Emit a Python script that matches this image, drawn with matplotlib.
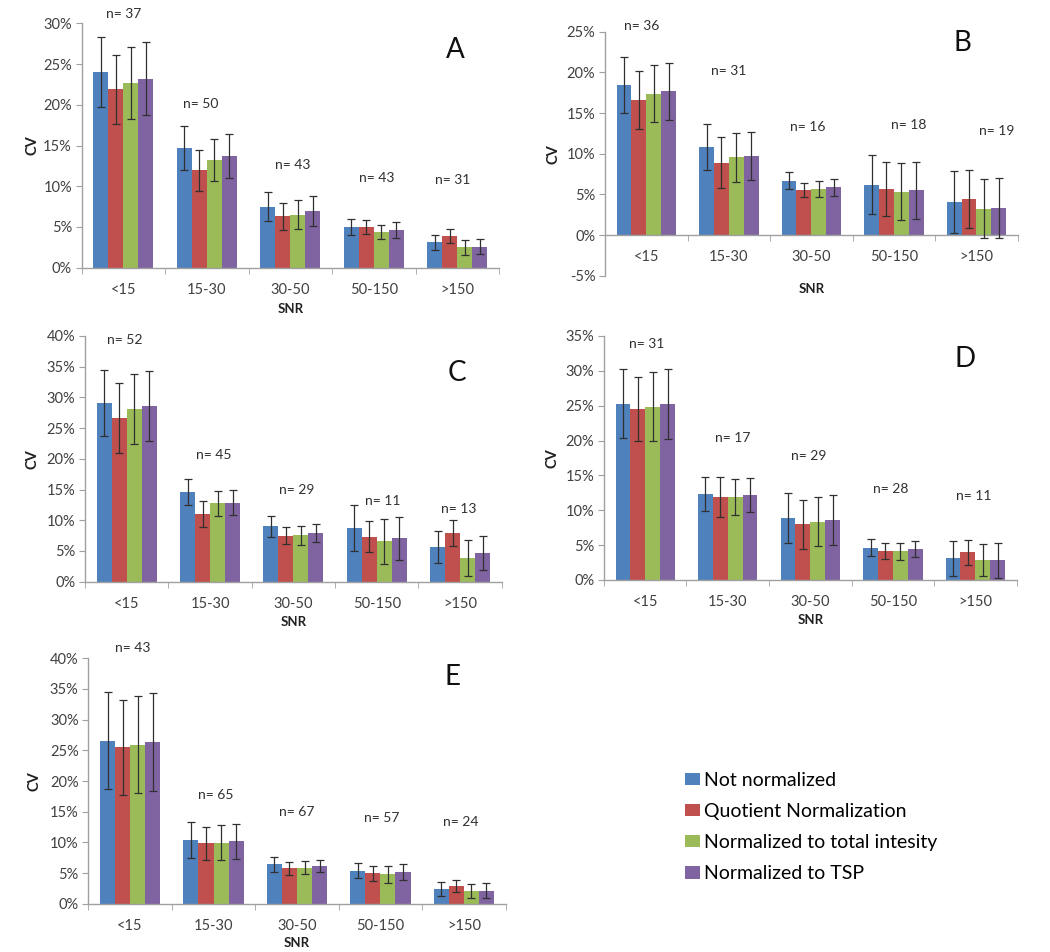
import matplotlib
matplotlib.use('Agg')
import matplotlib.pyplot as plt
from matplotlib.patches import Patch
import numpy as np

plt.rcParams['font.family'] = ['Lato', 'DejaVu Sans']

categories = ['<15', '15-30', '30-50', '50-150', '>150']
series = ['Not normalized', 'Quotient Normalization',
          'Normalized to total intesity', 'Normalized to TSP']
colors = ['#4F81BD', '#C0504D', '#9BBB59', '#8064A2']

# ---- Panel A (rows: series, cols: categories), CV in %
A_cv = [[24.0, 14.7, 7.5, 5.0, 3.1],
        [21.9, 11.95, 6.3, 5.0, 3.9],
        [22.7, 13.2, 6.5, 4.4, 2.5],
        [23.2, 13.7, 6.95, 4.6, 2.6]]
A_err = [[4.3, 2.65, 1.8, 0.95, 0.95],
         [4.2, 2.55, 1.7, 0.9, 0.9],
         [4.4, 2.6, 1.75, 0.9, 0.95],
         [4.5, 2.7, 1.8, 0.95, 0.9]]
A_n = [37, 50, 43, 43, 31]

# ---- Panel B
B_cv = [[18.5, 10.8, 6.7, 6.2, 4.1],
        [16.6, 8.9, 5.5, 5.7, 4.4],
        [17.4, 9.55, 5.65, 5.35, 3.25],
        [17.7, 9.75, 5.85, 5.5, 3.35]]
B_err = [[3.45, 2.8, 1.0, 3.6, 3.8],
         [3.6, 3.1, 0.85, 3.3, 3.55],
         [3.5, 3.0, 1.0, 3.5, 3.6],
         [3.5, 2.95, 1.0, 3.5, 3.7]]
B_n = [36, 31, 16, 18, 19]

# ---- Panel C
C_cv = [[29.05, 14.6, 9.05, 8.75, 5.65],
        [26.65, 11.0, 7.5, 7.35, 7.9],
        [28.1, 12.75, 7.55, 6.55, 3.85],
        [28.6, 12.85, 7.9, 7.05, 4.7]]
C_err = [[5.4, 2.1, 1.7, 3.8, 2.55],
         [5.7, 2.1, 1.4, 2.55, 2.1],
         [5.75, 2.0, 1.5, 3.6, 2.9],
         [5.7, 2.0, 1.5, 3.5, 2.8]]
C_n = [52, 45, 29, 11, 13]

# ---- Panel D
D_cv = [[25.3, 12.3, 8.9, 4.65, 3.1],
        [24.5, 11.85, 8.0, 4.2, 4.0],
        [24.85, 11.95, 8.35, 4.1, 2.85],
        [25.2, 12.15, 8.65, 4.5, 2.85]]
D_err = [[5.0, 2.4, 3.6, 1.2, 2.5],
         [4.6, 2.85, 3.5, 1.15, 1.8],
         [4.95, 2.6, 3.5, 1.25, 2.25],
         [5.0, 2.45, 3.6, 1.15, 2.5]]
D_n = [31, 17, 29, 28, 11]

# ---- Panel E
E_cv = [[26.6, 10.4, 6.4, 5.4, 2.4],
        [25.5, 9.85, 5.75, 4.95, 2.9],
        [25.9, 9.95, 5.9, 4.8, 2.1],
        [26.3, 10.15, 6.15, 5.15, 2.1]]
E_err = [[7.9, 2.9, 1.15, 1.25, 1.15],
         [7.7, 2.7, 1.0, 1.2, 1.0],
         [7.9, 2.9, 1.05, 1.35, 1.15],
         [8.0, 2.9, 1.0, 1.35, 1.2]]
E_n = [43, 65, 67, 57, 24]

# ---- layout (positions of annotations, not data)
panels = [
    dict(letter='A', cv=A_cv, err=A_err, n=A_n, ylim=(0, 30),
         rect=[0.0778, 0.7188, 0.3974, 0.2567],
         n_y=[31.1, 20.05, 12.6, 10.97, 10.76], n_dx=[0, -0.07, 0.03, 0.03, -0.06],
         let_xy=(0.895, 0.89), snr_y=-0.145, cv_x=-0.102),
    dict(letter='B', cv=B_cv, err=B_err, n=B_n, ylim=(-5, 25),
         rect=[0.5762, 0.7104, 0.3930, 0.2563],
         n_y=[25.7, 20.2, 13.3, 13.5, 12.8], n_dx=[-0.06, 0, -0.04, 0.18, 0.25],
         let_xy=(0.867, 0.953), snr_y=-0.03, cv_x=-0.107),
    dict(letter='C', cv=C_cv, err=C_err, n=C_n, ylim=(0, 40),
         rect=[0.0810, 0.3890, 0.3969, 0.2581],
         n_y=[39.4, 20.7, 14.9, 13.2, 11.9], n_dx=[-0.02, 0.05, 0.04, 0.07, -0.02],
         let_xy=(0.892, 0.848), snr_y=-0.138, cv_x=-0.11),
    dict(letter='D', cv=D_cv, err=D_err, n=D_n, ylim=(0, 35),
         rect=[0.5752, 0.3908, 0.3930, 0.2563],
         n_y=[33.8, 20.4, 17.8, 13.1, 12.05], n_dx=[0.02, 0.06, -0.02, -0.02, -0.02],
         let_xy=(0.875, 0.906), snr_y=-0.138, cv_x=-0.108),
    dict(letter='E', cv=E_cv, err=E_err, n=E_n, ylim=(0, 40),
         rect=[0.0841, 0.0507, 0.3975, 0.2578],
         n_y=[41.6, 17.7, 14.9, 13.9, 13.3], n_dx=[0.03, 0.03, 0, 0.02, -0.04],
         let_xy=(0.872, 0.925), snr_y=-0.135, cv_x=-0.113),
]

fig = plt.figure(figsize=(10.5, 9.52), dpi=100)
spine_col = '#A0A0A0'
text_col = '#404040'
w = 0.18
xc = np.arange(len(categories))

for p in panels:
    ax = fig.add_axes(p['rect'])
    for j in range(4):
        xs = xc + (j - 1.5) * w
        ax.bar(xs, p['cv'][j], width=w, color=colors[j], zorder=2)
        ax.errorbar(xs, p['cv'][j], yerr=p['err'][j], fmt='none',
                    ecolor='#303030', elinewidth=0.9, capsize=3, capthick=0.9, zorder=3)
    ax.set_xlim(-0.5, 4.5)
    lo, hi = p['ylim']
    ax.set_ylim(lo, hi)
    ax.set_yticks(np.arange(lo, hi + 0.1, 5))
    ax.set_yticklabels([f'{v:.0f}%' for v in np.arange(lo, hi + 0.1, 5)])
    ax.set_xticks(xc)
    ax.set_xticklabels(categories)
    ax.set_xticks(np.arange(-0.5, 4.6, 1), minor=True)
    ax.tick_params(axis='x', which='major', length=0, pad=11, labelsize=10.5, labelcolor=text_col)
    ax.tick_params(axis='x', which='minor', length=4, color=spine_col, direction='out')
    ax.tick_params(axis='y', length=4, color=spine_col, labelsize=10.5, labelcolor=text_col, pad=3)
    for s in ['top', 'right']:
        ax.spines[s].set_visible(False)
    for s in ['left', 'bottom']:
        ax.spines[s].set_color(spine_col)
        ax.spines[s].set_linewidth(1.0)
    if lo < 0:
        ax.spines['bottom'].set_position(('data', 0))
    ax.set_xlabel('SNR', fontsize=9.5, fontweight='bold', color='#202020')
    ax.xaxis.set_label_coords(0.5, p['snr_y'])
    ax.set_ylabel('CV', fontsize=10.5, fontweight='bold', color='#202020')
    ax.yaxis.set_label_coords(p['cv_x'], 0.5)
    for i in range(5):
        ax.text(xc[i] + p['n_dx'][i], p['n_y'][i], f'n= {p["n"][i]}', ha='center', va='center',
                fontsize=10, color='#303030', clip_on=False)
    ax.text(p['let_xy'][0], p['let_xy'][1], p['letter'], transform=ax.transAxes,
            ha='center', va='center', fontsize=20, color='#101010')
    ax.set_facecolor('none')

handles = [Patch(facecolor=c, edgecolor='none') for c in colors]
fig.legend(handles, series, loc='upper left', bbox_to_anchor=(0.645, 0.1975),
           frameon=False, fontsize=14, handlelength=0.75, handleheight=0.6,
           handletextpad=0.25, labelspacing=0.73, borderaxespad=0)

fig.savefig('out.png', dpi=100)
